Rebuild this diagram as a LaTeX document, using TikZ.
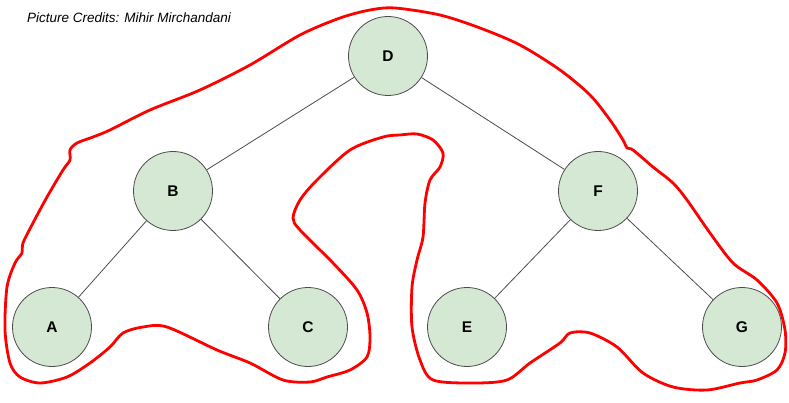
\documentclass[tikz,border=0pt]{standalone}
\usepackage{fontspec}
\setmainfont{Liberation Sans}
\begin{document}
\begin{tikzpicture}[x=1pt,y=-1pt,
  treenode/.style={circle,draw=black!70,line width=0.8pt,fill=nodegreen,minimum size=79pt,inner sep=0pt,font=\fontsize{15.5}{17}\selectfont\bfseries},
  treeedge/.style={draw=black!70,line width=0.8pt},
  outline/.style={draw=red,line width=2.8pt,line join=round}]
\definecolor{nodegreen}{HTML}{D5E8D4}
\useasboundingbox (0,0) rectangle (789,403);
\node[anchor=west,inner sep=0pt,font=\fontsize{13.5}{15}\selectfont\itshape] (credit) at (27,18) {Picture Credits: Mihir Mirchandani};
\node[treenode] (D) at (388,56) {D};
\node[treenode] (B) at (173,191) {B};
\node[treenode] (F) at (598,191) {F};
\node[treenode] (A) at (52,327) {A};
\node[treenode] (C) at (308,327) {C};
\node[treenode] (E) at (467,327) {E};
\node[treenode] (G) at (742,327) {G};
\draw[treeedge] (D) -- (B);
\draw[treeedge] (D) -- (F);
\draw[treeedge] (B) -- (A);
\draw[treeedge] (B) -- (C);
\draw[treeedge] (F) -- (E);
\draw[treeedge] (F) -- (G);
\draw[outline] plot[smooth cycle,tension=0.5] coordinates {
 (395,8) (440,15) (480,28) (520,45) (560,70) (590,95) (610,120) (623,140) (627,148) (633,150)
 (653,167) (673,183) (687,200) (710,233) (733,263) (757,280) (777,303) (785,330) (785,353)
 (777,370) (757,380) (740,383) (707,390) (673,387) (643,373) (617,347) (590,333) (570,333)
 (560,343) (530,363) (507,380) (473,383) (433,380) (420,360) (412,327) (412,287) (417,260)
 (423,237) (425,203) (430,180) (440,167) (443,153) (433,140) (417,134) (400,135) (383,137)
 (350,150) (317,180) (300,200) (293,218) (300,230) (333,263) (357,290) (367,313) (370,337)
 (367,357) (350,370) (327,377) (310,382) (283,380) (250,363) (217,350) (167,327) (143,327)
 (123,333) (110,347) (90,363) (67,377) (40,383) (20,377) (10,363) (5,330) (7,287) (15,263)
 (22,253) (23,243) (33,223) (47,197) (63,170) (70,160) (70,150) (77,143) (93,137) (110,130)
 (150,110) (200,90) (250,65) (300,35) (340,18) (370,10)};
\end{tikzpicture}
\end{document}
